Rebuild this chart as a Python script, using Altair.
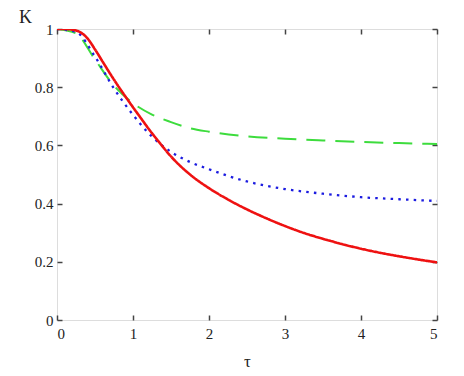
import altair as alt
import pandas as pd

# Red solid curve
red_tau = [0, 0.1, 0.25, 0.4, 0.5, 0.6, 0.7, 0.8, 0.9, 1.0, 1.1, 1.2, 1.35, 1.5, 1.75, 2.0,
           2.25, 2.5, 2.75, 3.0, 3.25, 3.5, 3.75, 4.0, 4.25, 4.5, 4.75, 5.0]
red_k = [1.0, 1.0, 0.995, 0.968, 0.93, 0.888, 0.846, 0.806, 0.768, 0.731, 0.695, 0.659, 0.609,
         0.562, 0.5, 0.453, 0.414, 0.38, 0.35, 0.323, 0.299, 0.279, 0.261, 0.245, 0.231,
         0.219, 0.208, 0.198]

# Green dashed curve
green_tau = [0, 0.25, 0.5, 0.75, 1.0, 1.25, 1.5, 1.75, 2.0, 2.5, 3.0, 3.5, 4.0, 4.5, 5.0]
green_k = [1.0, 0.985, 0.895, 0.805, 0.745, 0.706, 0.68, 0.659, 0.647, 0.631, 0.623, 0.617,
           0.612, 0.608, 0.605]

# Blue dotted curve
blue_tau = [0, 0.25, 0.5, 0.75, 1.0, 1.25, 1.5, 1.75, 2.0, 2.5, 3.0, 3.5, 4.0, 4.5, 5.0]
blue_k = [1.0, 0.99, 0.905, 0.795, 0.705, 0.63, 0.578, 0.543, 0.518, 0.476, 0.45, 0.434,
          0.422, 0.415, 0.409]

x_ticks = [0, 1, 2, 3, 4, 5]
y_ticks = [0, 0.2, 0.4, 0.6, 0.8, 1]

series_order = ["green", "blue", "red"]
series_color = ["#3ddc3d", "#1c1ce0", "#ee1111"]
series_dash = [[19, 10], [2.5, 5.2], [1, 0]]
series_width = [2, 2.6, 2.6]

rows = []
for name, xs, ys in [("green", green_tau, green_k), ("blue", blue_tau, blue_k), ("red", red_tau, red_k)]:
    for i, (a, b) in enumerate(zip(xs, ys)):
        rows.append({"series": name, "tau": a, "K": b, "order": i})
df = pd.DataFrame(rows)

FONT = "Liberation Serif"
xscale = alt.Scale(domain=[0, 5], nice=False, zero=False)
yscale = alt.Scale(domain=[0, 1], nice=False)

curves = alt.Chart(df).mark_line(clip=True, interpolate="monotone").encode(
    x=alt.X("tau:Q", scale=xscale,
            axis=alt.Axis(orient="bottom", values=x_ticks, offset=-5, tickSize=5, domain=False,
                          grid=False, labelPadding=6, labelFont=FONT, labelFontSize=15,
                          labelColor="#222", tickColor="#444", tickWidth=1.5,
                          title="τ", titleFont=FONT, titleFontSize=17, titleFontWeight="normal",
                          titleColor="#222", titlePadding=12)),
    y=alt.Y("K:Q", scale=yscale,
            axis=alt.Axis(orient="left", values=y_ticks, offset=-5, tickSize=5, domain=False,
                          grid=False, labelPadding=4, labelFont=FONT, labelFontSize=15,
                          labelColor="#222", tickColor="#444", tickWidth=1.5,
                          labelExpr="'' + datum.value",
                          title="K", titleFont=FONT, titleFontSize=18, titleFontWeight="normal",
                          titleColor="#222", titleAngle=0, titleAlign="center",
                          titleBaseline="middle", titleX=-37, titleY=-12)),
    color=alt.Color("series:N", scale=alt.Scale(domain=series_order, range=series_color), legend=None),
    strokeDash=alt.StrokeDash("series:N", scale=alt.Scale(domain=series_order, range=series_dash), legend=None),
    strokeWidth=alt.StrokeWidth("series:N", scale=alt.Scale(domain=series_order, range=series_width), legend=None),
    order="order:Q",
    detail="series:N",
)

frame_ticks = alt.Chart(df).mark_line(opacity=0).encode(
    x=alt.X("tau:Q", scale=xscale,
            axis=alt.Axis(orient="top", values=x_ticks, offset=-5, tickSize=5, domain=False,
                          grid=False, labels=False, tickColor="#444", tickWidth=1.5, title="")),
    y=alt.Y("K:Q", scale=yscale,
            axis=alt.Axis(orient="right", values=y_ticks, offset=-5, tickSize=5, domain=False,
                          grid=False, labels=False, tickColor="#444", tickWidth=1.5, title="")),
    detail="series:N",
)

chart = alt.layer(frame_ticks, curves).resolve_axis(x="independent", y="independent").properties(
    width=380, height=291,
    autosize=alt.AutoSizeParams(type="none"),
    padding={"left": 49, "top": 21, "right": 19, "bottom": 49},
).configure_view(stroke="#444", strokeWidth=1.6).configure(background="white")

chart.save("out.html", embed_options={"renderer": "svg", "actions": False})
